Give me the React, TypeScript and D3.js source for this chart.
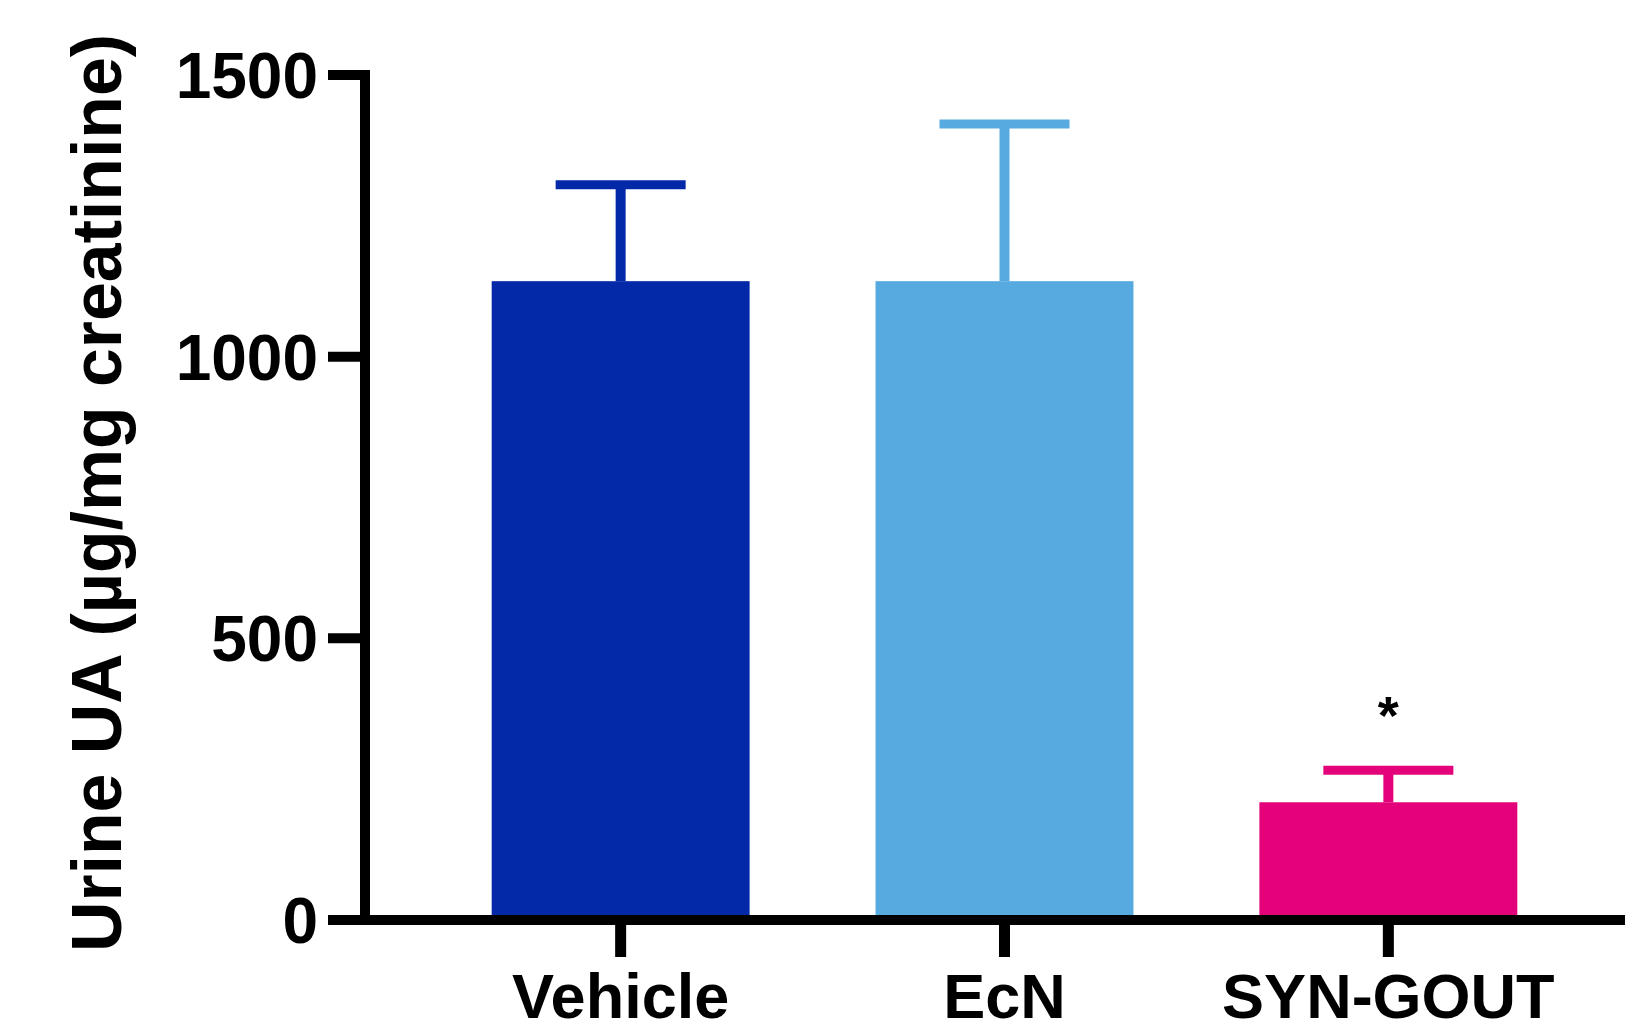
import React from "react";
import * as d3 from "d3";

const groups = ["Vehicle", "EcN", "SYN-GOUT"];
const means = [1134, 1134, 209];
const sems = [171, 279, 57];
const colors = ["#0329a8", "#57aae0", "#e4027a"];
const yTicks = [0, 500, 1000, 1500];
const marks = ["", "", "*"];

const WIDTH = 1625;
const HEIGHT = 1021;
const FONT = "'Liberation Sans', Arial, Helvetica, sans-serif";

export default function App() {
  const y = d3.scaleLinear().domain([0, 1500]).range([920, 75]);
  const x = d3
    .scaleBand<string>()
    .domain(groups)
    .range([365, 1644])
    .paddingInner(0.328)
    .paddingOuter(0.33);

  const axisX = 365;
  const axisY = y(0);
  const capHalf = 65;

  return (
    <svg
      width={WIDTH}
      height={HEIGHT}
      style={{ position: "absolute", top: 0, left: 0, background: "#fff" }}
      fontFamily={FONT}
      fontWeight="bold"
    >
      {/* bars + error bars */}
      {groups.map((g, i) => {
        const bx = x(g) as number;
        const cx = bx + x.bandwidth() / 2;
        const top = y(means[i] + sems[i]);
        return (
          <g key={g}>
            <rect
              x={bx}
              y={y(means[i])}
              width={x.bandwidth()}
              height={axisY - y(means[i])}
              fill={colors[i]}
            />
            <line x1={cx} x2={cx} y1={y(means[i])} y2={top} stroke={colors[i]} strokeWidth={10} />
            <line x1={cx - capHalf} x2={cx + capHalf} y1={top} y2={top} stroke={colors[i]} strokeWidth={9} />
            {marks[i] && (
              <text x={cx} y={top - 36} textAnchor="middle" fontSize={54} fill="#000">
                {marks[i]}
              </text>
            )}
          </g>
        );
      })}

      {/* y axis */}
      <line x1={axisX} x2={axisX} y1={y(1500) - 5} y2={axisY + 5} stroke="#000" strokeWidth={10} />
      {yTicks.map((t) => (
        <g key={t}>
          <line x1={328} x2={axisX} y1={y(t)} y2={y(t)} stroke="#000" strokeWidth={10} />
          <text x={318} y={y(t)} dy="0.36em" textAnchor="end" fontSize={64} fill="#000">
            {t}
          </text>
        </g>
      ))}

      {/* x axis */}
      <line x1={axisX - 5} x2={1644} y1={axisY} y2={axisY} stroke="#000" strokeWidth={10} />
      {groups.map((g) => {
        const cx = (x(g) as number) + x.bandwidth() / 2;
        return (
          <g key={g}>
            <line x1={cx} x2={cx} y1={axisY} y2={957} stroke="#000" strokeWidth={11} />
            <text x={cx} y={1018} textAnchor="middle" fontSize={63} fill="#000">
              {g}
            </text>
          </g>
        );
      })}

      {/* y label */}
      <text
        transform={`translate(121, 493) rotate(-90)`}
        textAnchor="middle"
        fontSize={70}
        fill="#000"
        textLength={918}
        lengthAdjust="spacingAndGlyphs"
      >
        Urine UA (µg/mg creatinine)
      </text>
    </svg>
  );
}
